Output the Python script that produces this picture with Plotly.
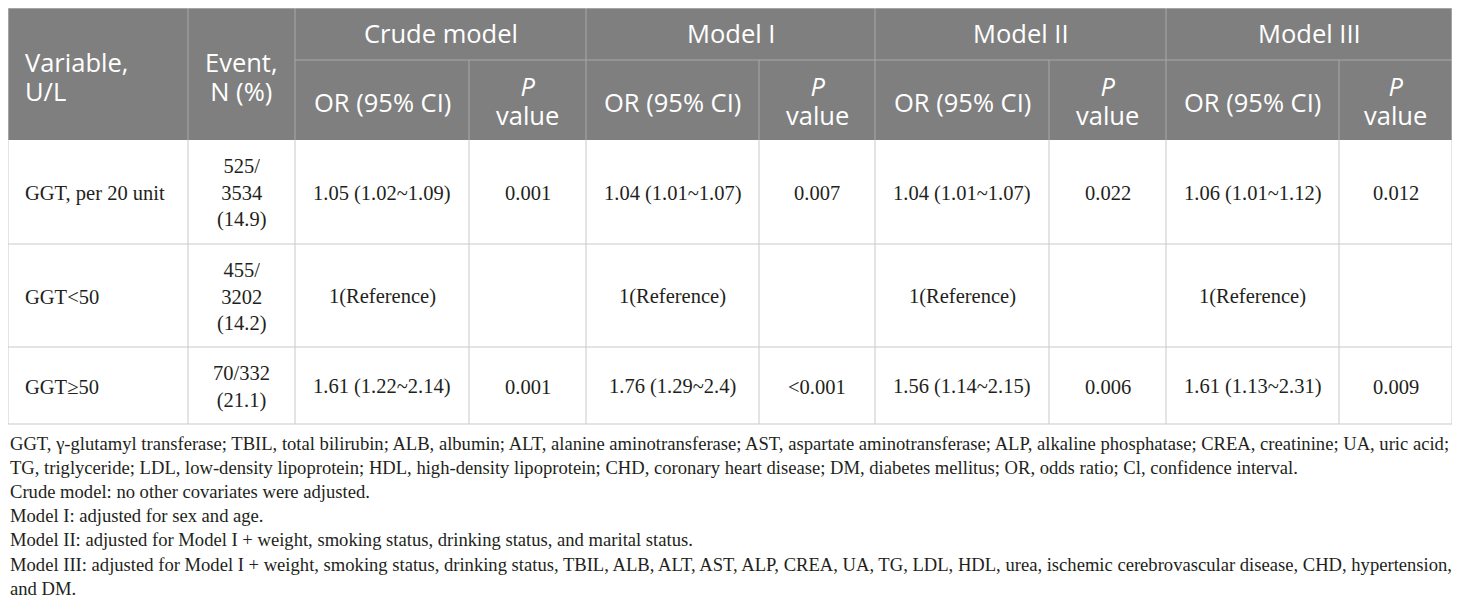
import plotly.graph_objects as go

# Table content
model_names = ["Crude model", "Model I", "Model II", "Model III"]
variables = ["GGT, per 20 unit", "GGT<50", "GGT≥50"]
events = ["525/<br>3534<br>(14.9)", "455/<br>3202<br>(14.2)", "70/332<br>(21.1)"]
or_crude = ["1.05 (1.02~1.09)", "1(Reference)", "1.61 (1.22~2.14)"]
p_crude = ["0.001", "", "0.001"]
or_model1 = ["1.04 (1.01~1.07)", "1(Reference)", "1.76 (1.29~2.4)"]
p_model1 = ["0.007", "", "<0.001"]
or_model2 = ["1.04 (1.01~1.07)", "1(Reference)", "1.56 (1.14~2.15)"]
p_model2 = ["0.022", "", "0.006"]
or_model3 = ["1.06 (1.01~1.12)", "1(Reference)", "1.61 (1.13~2.31)"]
p_model3 = ["0.012", "", "0.009"]

footnotes = [
    "GGT, γ-glutamyl transferase; TBIL, total bilirubin; ALB, albumin; ALT, alanine aminotransferase; AST, aspartate aminotransferase; ALP, alkaline phosphatase; CREA, creatinine; UA, uric acid;",
    "TG, triglyceride; LDL, low-density lipoprotein; HDL, high-density lipoprotein; CHD, coronary heart disease; DM, diabetes mellitus; OR, odds ratio; Cl, confidence interval.",
    "Crude model: no other covariates were adjusted.",
    "Model I: adjusted for sex and age.",
    "Model II: adjusted for Model I + weight, smoking status, drinking status, and marital status.",
    "Model III: adjusted for Model I + weight, smoking status, drinking status, TBIL, ALB, ALT, AST, ALP, CREA, UA, TG, LDL, HDL, urea, ischemic cerebrovascular disease, CHD, hypertension,",
    "and DM.",
]

# Layout of the grid (page pixels, y grows downward)
col_edges = [8, 188, 295, 469, 586, 759, 875, 1049, 1166, 1339, 1452]
row_edges = [8, 60, 140, 244, 347, 424]
foot_y0 = 443
foot_step = 24.2

HEAD_BG = "#7f7f7f"
HEAD_LINE = "#a9a9a9"
BODY_LINE = "#c9c9c9"
HEAD_SIZE = 25.5
HEAD_FONT = dict(family="Open Sans", size=HEAD_SIZE, color="white")
# two-line header cells: base size sets the line pitch (~29px), glyphs stay at HEAD_SIZE
HEAD2_FONT = dict(family="Open Sans", size=22.5, color="white")
BODY_FONT = dict(family="Liberation Serif", size=20.5, color="#231f20")
FOOT_FONT = dict(family="Liberation Serif", size=18.6, color="#231f20")

fig = go.Figure()
shapes = []
annotations = []


def line(x0, y0, x1, y1, color):
    shapes.append(dict(type="line", x0=x0, y0=y0, x1=x1, y1=y1,
                       xref="x", yref="y", line=dict(color=color, width=1)))


def text(x, y, s, font, xanchor="center"):
    annotations.append(dict(x=x, y=y, text=s, xref="x", yref="y", showarrow=False,
                            xanchor=xanchor, yanchor="middle",
                            align="left" if xanchor == "left" else "center",
                            font=font))


def two_lines(a, b):
    sp = '<span style="font-size:%spx">' % HEAD_SIZE
    return sp + a + "</span><br>" + sp + b + "</span>"


def mid(a, b):
    return (a + b) / 2


left, right = col_edges[0], col_edges[-1]

# header background
shapes.append(dict(type="rect", x0=left, y0=row_edges[0], x1=right, y1=row_edges[2],
                   xref="x", yref="y", fillcolor=HEAD_BG, line=dict(width=0), layer="below"))

# header grid
line(col_edges[2], row_edges[1], right, row_edges[1], HEAD_LINE)
for i, xe in enumerate(col_edges[1:-1], start=1):
    top = row_edges[0] if i in (1, 2, 4, 6, 8) else row_edges[1]
    line(xe, top, xe, row_edges[2], HEAD_LINE)

# outer border + body grid
line(left, row_edges[0], right, row_edges[0], BODY_LINE)
line(left, row_edges[0], left, row_edges[-1], BODY_LINE)
line(right, row_edges[0], right, row_edges[-1], BODY_LINE)
for ye in row_edges[3:]:
    line(left, ye, right, ye, BODY_LINE)
for xe in col_edges[1:-1]:
    line(xe, row_edges[2], xe, row_edges[-1], BODY_LINE)

# header text
hc = mid(row_edges[0], row_edges[2]) + 2
text(left + 15, hc, two_lines("Variable,", "U/L"), HEAD2_FONT, xanchor="left")
ec = mid(col_edges[1], col_edges[2])
text(ec, hc, two_lines("Event,", "N (%)"), HEAD2_FONT)
for k, name in enumerate(model_names):
    c0 = col_edges[2 + 2 * k]
    c1 = col_edges[3 + 2 * k]
    c2 = col_edges[4 + 2 * k]
    sub = mid(row_edges[1], row_edges[2])
    text(mid(c0, c2), mid(row_edges[0], row_edges[1]) - 1, name, HEAD_FONT)
    text(mid(c0, c1), sub + 2, "OR (95% CI)", HEAD_FONT)
    text(mid(c1, c2), sub, two_lines("<i>P</i>", "value"), HEAD2_FONT)

# body text
body_cols = [or_crude, p_crude, or_model1, p_model1, or_model2, p_model2, or_model3, p_model3]
for r in range(len(variables)):
    yc = mid(row_edges[2 + r], row_edges[3 + r]) + 1
    text(left + 15, yc, variables[r], BODY_FONT, xanchor="left")
    text(ec, yc, events[r], BODY_FONT)
    for j, col in enumerate(body_cols):
        if col[r]:
            text(mid(col_edges[2 + j], col_edges[3 + j]), yc, col[r], BODY_FONT)

# footnotes
for i, note in enumerate(footnotes):
    text(left, foot_y0 + i * foot_step, note, FOOT_FONT, xanchor="left")

# the page body keeps an 8px margin, so the figure starts at page (8, 8)
fig.update_layout(
    width=1452, height=597,
    margin=dict(l=0, r=0, t=0, b=0),
    paper_bgcolor="white", plot_bgcolor="white",
    xaxis=dict(range=[8, 1460], visible=False, fixedrange=True),
    yaxis=dict(range=[605, 8], visible=False, fixedrange=True),
    shapes=shapes, annotations=annotations,
    showlegend=False,
)

fig.write_html("out.html")
